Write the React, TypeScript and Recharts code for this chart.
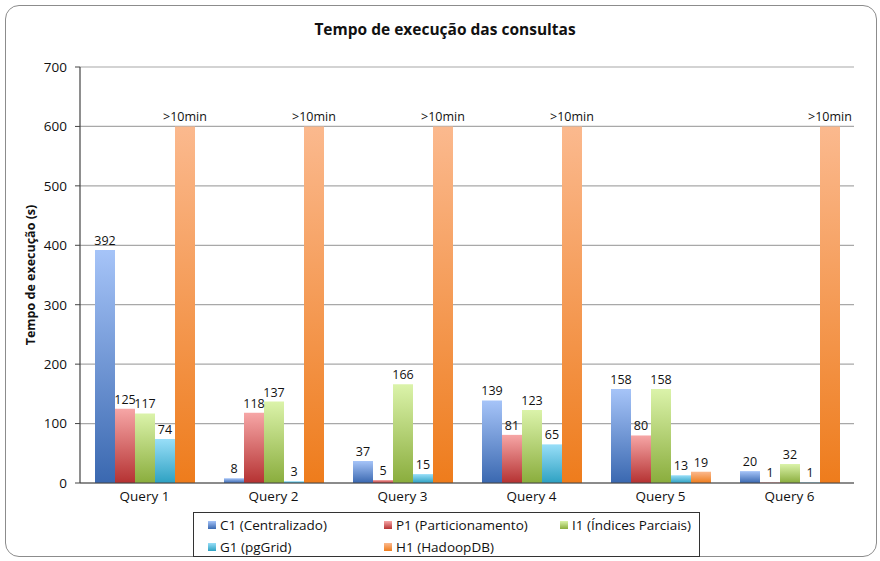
import { BarChart, Bar, XAxis, YAxis, CartesianGrid, LabelList } from 'recharts';

const categories = ['Query 1', 'Query 2', 'Query 3', 'Query 4', 'Query 5', 'Query 6'];
const c1 = [392, 8, 37, 139, 158, 20];
const p1 = [125, 118, 5, 81, 80, 1];
const i1 = [117, 137, 166, 123, 158, 32];
const g1 = [74, 3, 15, 65, 13, 1];
const h1 = [600, 600, 600, 600, 19, 600];
const yTicks = [0, 100, 200, 300, 400, 500, 600, 700];

const series = [
  { key: 'c1', name: 'C1 (Centralizado)', top: '#a6c4f8', bottom: '#3a68b0', values: c1 },
  { key: 'p1', name: 'P1 (Particionamento)', top: '#f6a6a6', bottom: '#b53232', values: p1 },
  { key: 'i1', name: 'I1 (Índices Parciais)', top: '#dbf3aa', bottom: '#8aad3d', values: i1 },
  { key: 'g1', name: 'G1 (pgGrid)', top: '#98def8', bottom: '#2ea1c2', values: g1 },
  { key: 'h1', name: 'H1 (HadoopDB)', top: '#fbb98e', bottom: '#ee7c1c', values: h1 },
];

const data = categories.map((name, i) => {
  const row: Record<string, string | number> = { name };
  series.forEach((s) => (row[s.key] = s.values[i]));
  return row;
});

const FONT = '"Open Sans", "Liberation Sans", sans-serif';
const FS = 13.5;

const fmt = (v: any) => (Number(v) >= 600 ? '>10min' : String(v));

export default function App() {
  return (
    <div style={{ position: 'absolute', left: 0, top: 0, width: 880, height: 561, background: '#fff', fontFamily: FONT }}>
      <div
        style={{
          position: 'absolute',
          left: 5,
          top: 5,
          width: 872,
          height: 552,
          border: '1.5px solid #8c8c8c',
          borderRadius: 14,
          boxSizing: 'border-box',
        }}
      />
      <div
        style={{
          position: 'absolute',
          left: 0,
          width: 890,
          top: 18,
          textAlign: 'center',
          fontWeight: 'bold',
          fontSize: 15.5,
          color: '#111',
        }}
      >
        Tempo de execução das consultas
      </div>
      <div style={{ position: 'absolute', left: 0, top: 0 }}>
        <BarChart
          width={880}
          height={561}
          data={data}
          margin={{ top: 67, right: 26, bottom: 48, left: 20 }}
          barSize={20}
          barGap={0}
        >
          <defs>
            {series.map((s) => (
              <linearGradient key={s.key} id={`grad-${s.key}`} x1="0" y1="0" x2="0" y2="1">
                <stop offset="0%" stopColor={s.top} />
                <stop offset="100%" stopColor={s.bottom} />
              </linearGradient>
            ))}
          </defs>
          <CartesianGrid vertical={false} stroke="#a8a8a8" strokeWidth={1.2} />
          <XAxis
            dataKey="name"
            tickLine={false}
            axisLine={{ stroke: '#444', strokeWidth: 1.2 }}
            tick={{ fill: '#111', fontSize: FS, fontFamily: FONT }}
          />
          <YAxis
            domain={[0, 700]}
            ticks={yTicks}
            width={60}
            tickSize={5}
            tickMargin={8}
            tickLine={{ stroke: '#444' }}
            axisLine={{ stroke: '#444', strokeWidth: 1.2 }}
            tick={{ fill: '#111', fontSize: FS, fontFamily: FONT }}
            label={() => (
              <text
                x={30}
                y={275}
                transform="rotate(-90 30 275)"
                textAnchor="middle"
                dominantBaseline="central"
                fontWeight="bold"
                fontSize={12.5}
                fontFamily={FONT}
                fill="#111"
              >
                Tempo de execução (s)
              </text>
            )}
          />
          {series.map((s) => (
            <Bar key={s.key} dataKey={s.key} name={s.name} fill={`url(#grad-${s.key})`} isAnimationActive={false}>
              <LabelList
                dataKey={s.key}
                position="top"
                formatter={fmt}
                style={{ fill: '#111', fontSize: 12.5, fontFamily: FONT }}
              />
            </Bar>
          ))}
        </BarChart>
      </div>
      <div
        style={{
          position: 'absolute',
          left: 193,
          top: 512,
          width: 507,
          height: 45,
          border: '1px solid #333',
          boxSizing: 'border-box',
          fontSize: FS,
          color: '#111',
        }}
      >
        {series.map((s, i) => {
          const col = i % 3;
          const row = Math.floor(i / 3);
          return (
            <div
              key={s.key}
              style={{
                position: 'absolute',
                left: [14, 190, 366][col],
                top: 3 + row * 22,
                display: 'flex',
                alignItems: 'center',
                whiteSpace: 'nowrap',
              }}
            >
              <span
                style={{
                  display: 'inline-block',
                  width: 8,
                  height: 8,
                  marginRight: 4,
                  background: `linear-gradient(${s.top}, ${s.bottom})`,
                }}
              />
              {s.name}
            </div>
          );
        })}
      </div>
    </div>
  );
}
